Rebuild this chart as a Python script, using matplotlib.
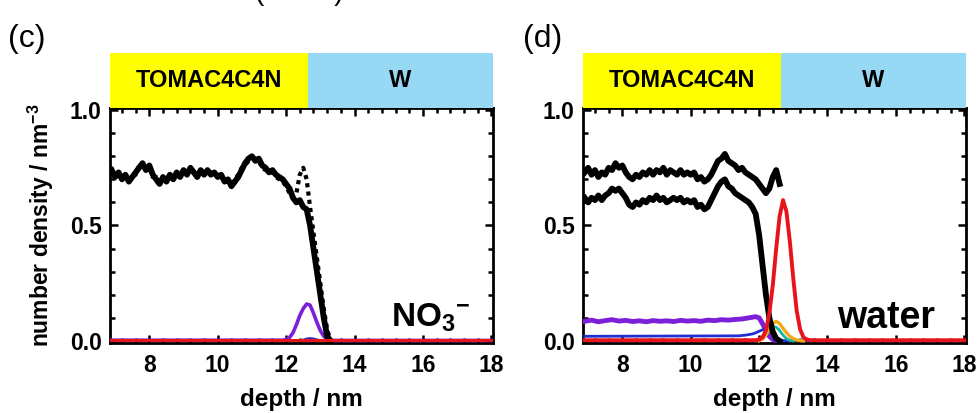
import numpy as np
import matplotlib
matplotlib.use("Agg")
import matplotlib.pyplot as plt
from matplotlib.ticker import MultipleLocator
from matplotlib import font_manager

# ---------------- data ----------------
phase_labels = ["TOMAC4C4N", "W"]
phase_boundary = 12.63
xlim = (6.85, 18.05)
xticks = [8, 10, 12, 14, 16, 18]
yticks = [0.0, 0.5, 1.0]
ytick_labels = ["0.0", "0.5", "1.0"]
panel_labels = ["(c)", "(d)"]
species_labels = ["NO$_3$$^{\\mathbf{-}}$", "water"]

# panel (c): NO3-
c_black_depth = np.round(np.arange(6.9, 13.35, 0.1), 2)
c_black = [0.74, 0.71, 0.73, 0.70, 0.72, 0.69, 0.71, 0.73, 0.75, 0.77,
           0.74, 0.76, 0.72, 0.70, 0.68, 0.71, 0.69, 0.72, 0.70, 0.73,
           0.71, 0.74, 0.72, 0.75, 0.73, 0.71, 0.74, 0.72, 0.74, 0.72,
           0.73, 0.71, 0.72, 0.69, 0.70, 0.67, 0.69, 0.71, 0.74, 0.77,
           0.79, 0.80, 0.78, 0.79, 0.76, 0.75, 0.73, 0.74, 0.72, 0.71,
           0.70, 0.68, 0.66, 0.62, 0.60, 0.61, 0.58, 0.57, 0.50, 0.40,
           0.30, 0.20, 0.10, 0.02, 0.00]
c_black2 = [0.73, 0.72, 0.72, 0.71, 0.71, 0.70, 0.72, 0.72, 0.76, 0.76,
            0.75, 0.75, 0.71, 0.71, 0.69, 0.70, 0.70, 0.71, 0.71, 0.72,
            0.72, 0.73, 0.73, 0.74, 0.72, 0.72, 0.73, 0.73, 0.73, 0.73,
            0.72, 0.72, 0.71, 0.70, 0.69, 0.68, 0.70, 0.72, 0.75, 0.76,
            0.78, 0.79, 0.79, 0.78, 0.75, 0.74, 0.74, 0.73, 0.71, 0.70,
            0.69, 0.67, 0.64, 0.62, 0.64, 0.72, 0.75, 0.70, 0.58, 0.47,
            0.36, 0.25, 0.14, 0.05, 0.00]
c_purple_depth = [6.9, 11.9, 12.0, 12.1, 12.2, 12.3, 12.4, 12.5, 12.6, 12.7,
                  12.8, 12.9, 13.0, 13.1, 13.2, 13.3, 13.4, 18.0]
c_purple = [0.003, 0.003, 0.006, 0.015, 0.035, 0.07, 0.11, 0.14, 0.16, 0.155,
            0.12, 0.08, 0.045, 0.02, 0.008, 0.003, 0.002, 0.002]
c_blue_depth = [6.9, 12.3, 12.5, 12.6, 12.7, 12.8, 12.9, 13.0, 13.2, 18.0]
c_blue = [0.002, 0.002, 0.005, 0.010, 0.012, 0.010, 0.006, 0.003, 0.002, 0.002]
c_red_depth = [6.85, 18.05]
c_red = [0.004, 0.004]

# panel (d): water
d_black_up_depth = np.round(np.arange(6.9, 12.65, 0.1), 2)
d_black_up = [0.73, 0.75, 0.72, 0.74, 0.71, 0.73, 0.72, 0.75, 0.74, 0.77,
              0.75, 0.76, 0.73, 0.71, 0.70, 0.72, 0.71, 0.73, 0.72, 0.74,
              0.72, 0.74, 0.73, 0.75, 0.72, 0.74, 0.73, 0.72, 0.74, 0.72,
              0.73, 0.72, 0.73, 0.70, 0.71, 0.69, 0.70, 0.72, 0.75, 0.78,
              0.79, 0.81, 0.78, 0.77, 0.76, 0.74, 0.75, 0.73, 0.72, 0.71,
              0.70, 0.68, 0.66, 0.64, 0.66, 0.71, 0.74, 0.68]
d_black_lo_depth = np.round(np.arange(6.9, 12.65, 0.1), 2)
d_black_lo = [0.62, 0.60, 0.62, 0.61, 0.63, 0.61, 0.63, 0.64, 0.66, 0.65,
              0.66, 0.64, 0.62, 0.59, 0.58, 0.60, 0.59, 0.61, 0.60, 0.62,
              0.61, 0.63, 0.61, 0.62, 0.60, 0.61, 0.62, 0.61, 0.62, 0.60,
              0.61, 0.60, 0.61, 0.58, 0.59, 0.57, 0.58, 0.61, 0.64, 0.67,
              0.69, 0.70, 0.67, 0.66, 0.64, 0.63, 0.62, 0.61, 0.60, 0.58,
              0.55, 0.46, 0.33, 0.20, 0.10, 0.04, 0.01, 0.00]
d_purple_depth = [6.9, 7.1, 7.3, 7.5, 7.7, 7.9, 8.1, 8.3, 8.5, 8.7, 8.9,
                  9.1, 9.3, 9.5, 9.7, 9.9, 10.1, 10.3, 10.5, 10.7, 10.9,
                  11.1, 11.3, 11.5, 11.7, 11.9, 12.0, 12.1, 12.2, 12.3, 12.4, 12.5]
d_purple = [0.085, 0.090, 0.083, 0.088, 0.092, 0.086, 0.089, 0.084, 0.087, 0.083,
            0.088, 0.085, 0.087, 0.084, 0.089, 0.086, 0.088, 0.085, 0.090, 0.088,
            0.092, 0.090, 0.093, 0.095, 0.100, 0.105, 0.100, 0.075, 0.045, 0.020,
            0.006, 0.000]
d_blue_depth = [6.9, 11.4, 11.6, 11.8, 11.9, 12.0, 12.1, 12.2, 12.3, 12.4,
                12.5, 12.6, 12.7, 18.0]
d_blue = [0.020, 0.022, 0.025, 0.030, 0.035, 0.042, 0.048, 0.050, 0.045, 0.030,
          0.015, 0.005, 0.001, 0.001]
d_cyan_depth = [11.9, 12.0, 12.1, 12.2, 12.3, 12.4, 12.5, 12.6, 12.7, 12.8,
                12.9, 13.0]
d_cyan = [0.0, 0.005, 0.015, 0.03, 0.05, 0.062, 0.06, 0.045, 0.025, 0.01,
          0.003, 0.0]
d_orange_depth = [12.0, 12.1, 12.2, 12.3, 12.4, 12.5, 12.6, 12.7, 12.8, 12.9,
                  13.0, 13.1, 13.2, 13.3]
d_orange = [0.0, 0.008, 0.025, 0.05, 0.075, 0.085, 0.075, 0.055, 0.035, 0.02,
            0.01, 0.004, 0.001, 0.0]
d_red_depth = [6.85, 11.9, 12.0, 12.1, 12.2, 12.3, 12.4, 12.5, 12.6, 12.7,
               12.8, 12.9, 13.0, 13.1, 13.2, 13.3, 13.4, 13.5, 18.05]
d_red = [0.003, 0.003, 0.006, 0.015, 0.045, 0.12, 0.24, 0.40, 0.54, 0.61,
         0.56, 0.43, 0.27, 0.13, 0.05, 0.015, 0.006, 0.003, 0.003]

# ---------------- style ----------------
avail = {f.name for f in font_manager.fontManager.ttflist}
narrow = "Liberation Sans Narrow" if "Liberation Sans Narrow" in avail else "Liberation Sans"
plt.rcParams["font.family"] = ["Liberation Sans", "DejaVu Sans"]
plt.rcParams["mathtext.fontset"] = "custom"
plt.rcParams["mathtext.rm"] = "Liberation Sans:bold"
plt.rcParams["mathtext.it"] = "Liberation Sans:bold"
plt.rcParams["mathtext.bf"] = "Liberation Sans:bold"

YELLOW = "#ffff00"
SKY = "#97d9f5"
PURPLE = "#7b1fd8"
BLUE = "#1f2fd0"
RED = "#e8141c"
CYAN = "#18b8a0"
ORANGE = "#f2a81c"

fig = plt.figure(figsize=(9.78, 4.13), dpi=100)

ax_w = 0.3916
ax_h = 0.569
ax_b = 0.1695
lefts = [0.1125, 0.5961]


def style_axes(ax):
    ax.set_xlim(*xlim)
    ax.set_ylim(-0.009, 1.009)
    ax.set_xticks(xticks)
    ax.set_yticks(yticks)
    ax.set_yticklabels(ytick_labels)
    ax.xaxis.set_minor_locator(MultipleLocator(0.4))
    ax.yaxis.set_minor_locator(MultipleLocator(0.1))
    ax.tick_params(which="both", direction="in", top=True, right=True, width=1.8)
    ax.tick_params(which="major", length=6)
    ax.tick_params(which="minor", length=3.5)
    ax.tick_params(axis="both", labelsize=16.5, pad=6)
    ax.tick_params(axis="x", pad=8)
    for lab in ax.get_xticklabels() + ax.get_yticklabels():
        lab.set_fontfamily(narrow)
        lab.set_fontweight("bold")
    for s in ax.spines.values():
        s.set_linewidth(2.0)
    ax.set_xlabel("depth / nm", fontsize=17.5, fontweight="bold", labelpad=8)


def band(left):
    bax = fig.add_axes([left, 0.7385, ax_w, 0.133])
    bax.set_xlim(*xlim)
    bax.set_ylim(0, 1)
    bax.axvspan(xlim[0], phase_boundary, color=YELLOW, lw=0)
    bax.axvspan(phase_boundary, xlim[1], color=SKY, lw=0)
    bax.text((xlim[0] + phase_boundary) / 2, 0.5, phase_labels[0], ha="center",
             va="center", fontsize=17, fontweight="bold")
    bax.text((phase_boundary + xlim[1]) / 2, 0.5, phase_labels[1], ha="center",
             va="center", fontsize=17, fontweight="bold")
    bax.axis("off")


# ---- panel (c)
ax1 = fig.add_axes([lefts[0], ax_b, ax_w, ax_h])
ax1.plot(c_purple_depth, c_purple, color=PURPLE, lw=2.6, zorder=3)
ax1.plot(c_blue_depth, c_blue, color=BLUE, lw=1.5, zorder=3)
ax1.plot(c_black_depth, c_black2, color="black", lw=3.0, ls=(0, (1, 1)), zorder=4)
ax1.plot(c_black_depth, c_black, color="black", lw=4.2, zorder=4)
ax1.plot(c_red_depth, c_red, color=RED, lw=2.2, zorder=5)
style_axes(ax1)
ax1.set_ylabel("number density / nm$^{-3}$", fontsize=16.5, fontweight="bold", labelpad=10)
ax1.text(17.38, 0.10, species_labels[0], ha="right", va="center", fontsize=24,
         fontweight="bold")
band(lefts[0])

# ---- panel (d)
ax2 = fig.add_axes([lefts[1], ax_b, ax_w, ax_h])
ax2.plot(d_purple_depth, d_purple, color=PURPLE, lw=3.5, zorder=3)
ax2.plot(d_blue_depth, d_blue, color=BLUE, lw=2.0, zorder=3)
ax2.plot(d_cyan_depth, d_cyan, color=CYAN, lw=2.0, zorder=3)
ax2.plot(d_orange_depth, d_orange, color=ORANGE, lw=2.4, zorder=3)
ax2.plot(d_black_up_depth, d_black_up, color="black", lw=4.2, zorder=4)
ax2.plot(d_black_lo_depth, d_black_lo, color="black", lw=4.2, zorder=4)
ax2.plot(d_red_depth, d_red, color=RED, lw=2.8, zorder=5)
style_axes(ax2)
ax2.text(17.14, 0.10, species_labels[1], ha="right", va="center", fontsize=27,
         fontweight="bold")
band(lefts[1])

# panel labels
fig.text(0.008, 0.905, panel_labels[0], fontsize=23, va="center", ha="left")
fig.text(0.535, 0.905, panel_labels[1], fontsize=23, va="center", ha="left")
# clipped text at the very top of the image
fig.text(0.306, 1.0, "(" + " " * 9 + ")", fontsize=20, va="baseline", ha="center")

fig.savefig("out.png", dpi=100)
